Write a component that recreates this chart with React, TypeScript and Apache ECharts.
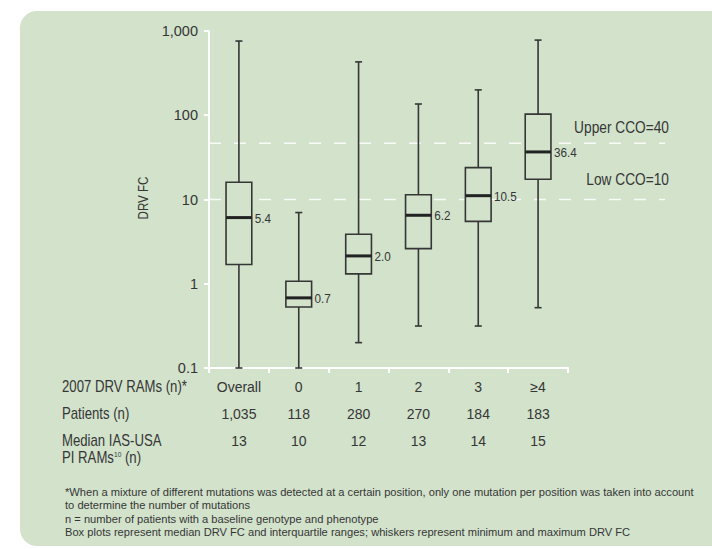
import React, { useEffect, useRef } from "react";
import * as echarts from "echarts";

const categories = ["Overall", "0", "1", "2", "3", "≥4"];
const patients = ["1,035", "118", "280", "270", "184", "183"];
const medianIasUsaRams = ["13", "10", "12", "13", "14", "15"];
const minFC = [0.1, 0.1, 0.2, 0.315, 0.315, 0.52];
const q1FC = [1.69, 0.53, 1.31, 2.61, 5.5, 17.4];
const medianFC = [6.1, 0.68, 2.14, 6.5, 11.1, 36.7];
const q3FC = [16, 1.07, 3.87, 11.4, 23.9, 103];
const maxFC = [760, 7.0, 430, 136, 200, 780];
const medianLabels = ["5.4", "0.7", "2.0", "6.2", "10.5", "36.4"];
const cutoffValues = [46.5, 10];
const cutoffLabels = ["Upper CCO=40", "Low CCO=10"];
const rowLabels = ["2007 DRV RAMs (n)*", "Patients (n)", "Median IAS-USA"];
const footnotes = [
  "*When a mixture of different mutations was detected at a certain position, only one mutation per position was taken into account",
  "to determine the number of mutations",
  "n = number of patients with a baseline genotype and phenotype",
  "Box plots represent median DRV FC and interquartile ranges; whiskers represent minimum and maximum DRV FC",
];

const FONT = "'Liberation Sans', Arial, sans-serif";
const INK = "#363636";
const PANEL = "#d2e2cb";

function measure(text: string, size: number): number {
  const ctx = document.createElement("canvas").getContext("2d");
  if (!ctx) return text.length * size * 0.5;
  ctx.font = `${size}px 'Liberation Sans', Arial, sans-serif`;
  return ctx.measureText(text).width;
}

export default function App() {
  const ref = useRef<HTMLDivElement>(null);
  useEffect(() => {
    if (!ref.current) return;
    const chart = echarts.init(ref.current, undefined, { renderer: "svg" });
    const labelOffsets = [16, 20];
    const rowScale = 125 / measure(rowLabels[0], 16);
    const noteScale = 629 / measure(footnotes[0], 11);
    const ccoScale = 95 / measure(cutoffLabels[0], 16);
    const titleScale = 43 / measure("DRV FC", 15);
    const option: any = {
      animation: false,
      backgroundColor: "transparent",
      grid: { left: 209, top: 31, right: 144, bottom: 181, containLabel: false },
      xAxis: {
        type: "category",
        data: categories,
        boundaryGap: true,
        axisLine: { lineStyle: { color: "#ffffff", width: 2 } },
        axisTick: { show: true, length: 5, lineStyle: { color: "#ffffff", width: 2 } },
        axisLabel: {
          margin: 5,
          interval: 0,
          formatter: (v: string, i: number) => `{a|${v}}\n{a|${patients[i]}}\n{a|${medianIasUsaRams[i]}}`,
          rich: {
            a: { fontFamily: FONT, fontSize: 14, color: INK, lineHeight: 27, align: "center" },
          },
        },
        splitLine: { show: false },
      },
      yAxis: {
        type: "log",
        logBase: 10,
        min: 0.1,
        max: 1000,
        axisLine: { show: true, lineStyle: { color: "#ffffff", width: 2 } },
        axisTick: { show: true, length: 5, lineStyle: { color: "#ffffff", width: 2 } },
        axisLabel: {
          margin: 11,
          fontFamily: FONT,
          fontSize: 14.5,
          color: INK,
          formatter: (v: number) => (v >= 1000 ? "1,000" : String(+Number(v).toPrecision(3))),
        },
        splitLine: { show: false },
      },
      graphic: {
        elements: [
          {
            type: "rect",
            z: -100,
            shape: { x: 20, y: 11, width: 720, height: 535, r: [17, 0, 0, 17] },
            style: { fill: PANEL },
          },
          {
            type: "text",
            x: 143,
            y: 198,
            rotation: Math.PI / 2,
            scaleX: titleScale,
            style: { text: "DRV FC", fontFamily: FONT, fontSize: 15, fill: INK, align: "center", verticalAlign: "middle" },
          },
          ...rowLabels.map((t, i) => ({
            type: "text",
            x: 62,
            y: 387 + i * 27,
            scaleX: rowScale,
            style: { text: t, fontFamily: FONT, fontSize: 16, fill: INK, align: "left", verticalAlign: "middle" },
          })),
          {
            type: "text",
            x: 62,
            y: 458,
            scaleX: rowScale,
            style: {
              text: "PI RAMs{s|10} (n)",
              fontFamily: FONT,
              fontSize: 16,
              fill: INK,
              align: "left",
              verticalAlign: "middle",
              rich: {
                s: { fontFamily: FONT, fontSize: 8, fill: INK, verticalAlign: "top", padding: [0, 0, 8, 0] },
              },
            },
          },
          ...footnotes.map((t, i) => ({
            type: "text",
            x: 65,
            y: 492 + i * 13.5,
            scaleX: noteScale,
            style: { text: t, fontFamily: FONT, fontSize: 11, fill: INK, align: "left", verticalAlign: "middle" },
          })),
        ],
      },
      series: [
        {
          type: "custom",
          name: "cutoffs",
          z: 1,
          data: cutoffValues.map((v) => [0, v]),
          encode: { x: 0, y: 1 },
          renderItem: (params: any, api: any) => {
            const i = params.dataIndex;
            const cs = params.coordSys;
            const y = api.coord([0, api.value(1)])[1];
            const x1 = cs.x;
            const x2 = cs.x + cs.width + 97;
            return {
              type: "group",
              children: [
                {
                  type: "line",
                  shape: { x1, y1: y, x2, y2: y },
                  style: { stroke: "rgba(255,255,255,0.85)", lineWidth: 1.5, lineDash: [12, 13] },
                },
                {
                  type: "text",
                  x: x2 + 4,
                  y: y - labelOffsets[i],
                  scaleX: ccoScale,
                  style: {
                    text: cutoffLabels[i],
                    x: 0,
                    y: 0,
                    align: "right",
                    verticalAlign: "middle",
                    fontFamily: FONT,
                    fontSize: 16,
                    fill: INK,
                  },
                },
              ],
            };
          },
        },
        {
          type: "custom",
          name: "DRV FC",
          z: 5,
          data: categories.map((_, i) => [i, minFC[i], q1FC[i], medianFC[i], q3FC[i], maxFC[i]]),
          encode: { x: 0, y: [1, 2, 3, 4, 5] },
          renderItem: (params: any, api: any) => {
            const i = params.dataIndex;
            const xv = api.value(0);
            const pMin = api.coord([xv, api.value(1)]);
            const pQ1 = api.coord([xv, api.value(2)]);
            const pMed = api.coord([xv, api.value(3)]);
            const pQ3 = api.coord([xv, api.value(4)]);
            const pMax = api.coord([xv, api.value(5)]);
            const bw = api.size([1, 0])[0] * 0.43;
            const cx = pMed[0];
            const cap = 3.5;
            const ls = { stroke: INK, lineWidth: 1.6 };
            return {
              type: "group",
              children: [
                { type: "line", shape: { x1: cx, y1: pMax[1], x2: cx, y2: pQ3[1] }, style: ls },
                { type: "line", shape: { x1: cx, y1: pQ1[1], x2: cx, y2: pMin[1] }, style: ls },
                { type: "line", shape: { x1: cx - cap, y1: pMax[1], x2: cx + cap, y2: pMax[1] }, style: ls },
                { type: "line", shape: { x1: cx - cap, y1: pMin[1], x2: cx + cap, y2: pMin[1] }, style: ls },
                {
                  type: "rect",
                  shape: { x: cx - bw / 2, y: pQ3[1], width: bw, height: pQ1[1] - pQ3[1] },
                  style: { fill: PANEL, stroke: INK, lineWidth: 1.6 },
                },
                {
                  type: "line",
                  shape: { x1: cx - bw / 2, y1: pMed[1], x2: cx + bw / 2, y2: pMed[1] },
                  style: { stroke: "#222", lineWidth: 3 },
                },
                {
                  type: "text",
                  x: cx + bw / 2 + 3,
                  y: pMed[1] + 1,
                  scaleX: 0.9,
                  style: {
                    text: medianLabels[i],
                    x: 0,
                    y: 0,
                    align: "left",
                    verticalAlign: "middle",
                    fontFamily: FONT,
                    fontSize: 13,
                    fill: INK,
                  },
                },
              ],
            };
          },
        },
      ],
    };
    chart.setOption(option);
    return () => chart.dispose();
  }, []);
  return (
    <div
      ref={ref}
      style={{ position: "fixed", left: 0, top: 0, width: 712, height: 549, background: "#ffffff" }}
    />
  );
}
